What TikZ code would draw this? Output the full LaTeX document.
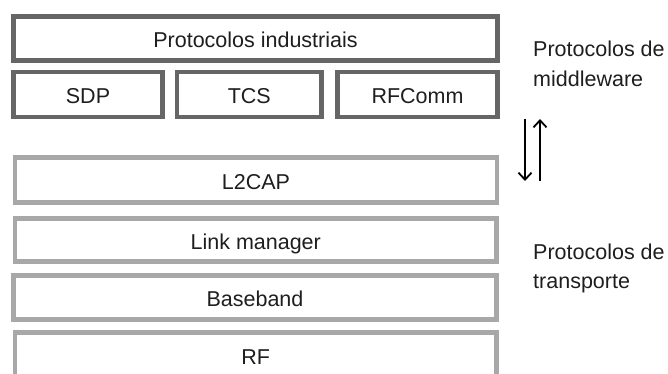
\documentclass[tikz,border=0pt]{standalone}
\usepackage{fontspec}
\setmainfont{Liberation Sans}
\usetikzlibrary{arrows.meta}
\definecolor{upperedge}{HTML}{666666}
\definecolor{loweredge}{HTML}{A8A8A8}
\definecolor{inktext}{HTML}{1E1E1E}
\begin{document}
\begin{tikzpicture}[x=1pt,y=-1pt,
  layer/.style={draw, rectangle, line width=4.5pt, fill=white, text=inktext,
    font=\fontsize{21.5}{25}\selectfont, text height=18pt, text depth=0pt,
    inner sep=0pt},
  upper/.style={layer, draw=upperedge},
  lower/.style={layer, draw=loweredge},
  side/.style={anchor=base west, align=left, inner sep=0pt, text=inktext,
    font=\fontsize{21.5}{29.5}\selectfont},
  flow/.style={line width=1.8pt, -{Straight Barb[length=7pt,width=13pt,line width=1.8pt]}}]
\useasboundingbox (0,0) rectangle (668,374);

% middleware layers
\node[upper, minimum width=484pt, minimum height=44pt] (ind) at (255.5,38.5) {Protocolos industriais};
\node[upper, minimum width=149pt, minimum height=44.6pt] (sdp) at (88,94.5) {SDP};
\node[upper, minimum width=144.5pt, minimum height=44.6pt] (tcs) at (249.25,94.5) {TCS};
\node[upper, minimum width=160pt, minimum height=44.6pt] (rfc) at (417.5,94.5) {RFComm};

% transport layers
\node[lower, minimum width=482pt, minimum height=45pt] (l2cap) at (256,180) {L2CAP};
\node[lower, minimum width=481.5pt, minimum height=43pt] (lm) at (255.75,240) {Link manager};
\node[lower, minimum width=483pt, minimum height=44pt] (bb) at (255,297.5) {Baseband};
\node[lower, minimum width=481.5pt, minimum height=46pt] (rf) at (255.75,355.5) {RF};

% side captions (anchored on the baseline of their last line)
\node[side] (mw) at (533,86.5) {Protocolos de\\middleware};
\node[side] (tr) at (533,288.5) {Protocolos de\\transporte};

% direction arrows between the two groups
\coordinate (dtop) at (525,119);
\coordinate (dbot) at (525,181);
\coordinate (utop) at (540,119);
\coordinate (ubot) at (540,181);
\draw[flow] (dtop) -- (dbot);
\draw[flow] (ubot) -- (utop);
\end{tikzpicture}
\end{document}
